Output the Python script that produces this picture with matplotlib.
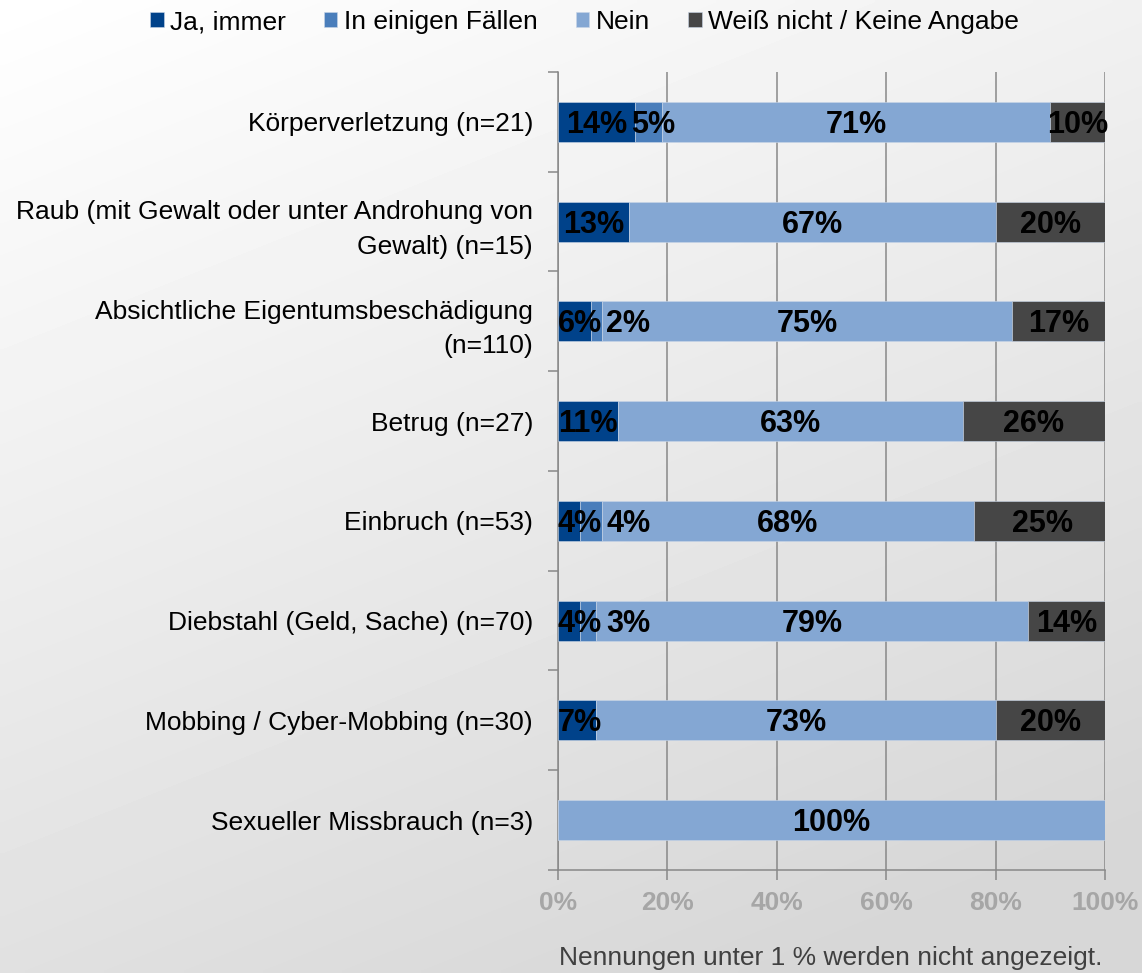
import numpy as np
import matplotlib.pyplot as plt
from matplotlib.ticker import FixedLocator

plt.rcParams['font.family'] = ['Liberation Sans', 'DejaVu Sans']

categories = [
    "Körperverletzung (n=21)",
    "Raub (mit Gewalt oder unter Androhung von\nGewalt) (n=15)",
    "Absichtliche Eigentumsbeschädigung\n(n=110)",
    "Betrug (n=27)",
    "Einbruch (n=53)",
    "Diebstahl (Geld, Sache) (n=70)",
    "Mobbing / Cyber-Mobbing (n=30)",
    "Sexueller Missbrauch (n=3)",
]
series = ["Ja, immer", "In einigen Fällen", "Nein", "Weiß nicht / Keine Angabe"]
ja_immer = [14, 13, 6, 11, 4, 4, 7, 0]
einige_faelle = [5, 0, 2, 0, 4, 3, 0, 0]
nein = [71, 67, 75, 63, 68, 79, 73, 100]
weiss_nicht = [10, 20, 17, 26, 25, 14, 20, 0]
colors = ["#00428a", "#4a7ebb", "#84a7d3", "#464646"]
footnote = "Nennungen unter 1 % werden nicht angezeigt."

fig = plt.figure(figsize=(11.42, 9.73), dpi=100)

# soft diagonal background gradient
bg = fig.add_axes([0, 0, 1, 1], zorder=-10)
yy, xx = np.mgrid[0:1:200j, 0:1:200j]
shade = 1.0 - 0.16 * np.clip(0.35 * xx + 0.75 * yy, 0, 1)
bg.imshow(shade, cmap="gray", vmin=0, vmax=1, aspect="auto",
          extent=[0, 1, 0, 1], origin="upper", interpolation="bilinear")
bg.axis("off")

ax = fig.add_axes([0.4886, 0.1059, 0.479, 0.8201])
ax.set_facecolor("none")
ax.set_xlim(0, 100)
ax.set_ylim(len(categories) - 0.5, -0.5)

y = np.arange(len(categories))
left = np.zeros(len(categories))
row_labels = [[] for _ in categories]
for name, vals, col in zip(series, [ja_immer, einige_faelle, nein, weiss_nicht], colors):
    vals = np.array(vals, dtype=float)
    ax.barh(y, vals, left=left, height=0.4, color=col, label=name,
            edgecolor="#c9d6e8", linewidth=0.4, zorder=3)
    for i, (l, v) in enumerate(zip(left, vals)):
        if v >= 1:
            t = ax.text(l + v / 2, i + 0.03, f"{v:.0f}%", ha="center", va="center",
                        fontsize=22, fontweight="bold", color="black",
                        zorder=5, clip_on=False)
            row_labels[i].append(t)
    left += vals

# push labels apart so narrow segments don't stack their texts
renderer = fig.canvas.get_renderer()
px_per_unit = ax.transData.transform((1, 0))[0] - ax.transData.transform((0, 0))[0]
gap = 4 / px_per_unit
for labels in row_labels:
    prev_right = 0.0 - gap
    for t in labels:
        w = t.get_window_extent(renderer).width / px_per_unit
        x0 = t.get_position()[0] - w / 2
        x0 = max(x0, prev_right + gap, 0.0)
        t.set_x(x0 + w / 2)
        prev_right = x0 + w

ax.set_xticks(np.arange(0, 101, 20))
ax.set_xticklabels([f"{v}%" for v in range(0, 101, 20)], fontsize=19,
                   fontweight="bold", color="#a6a6a6")
ax.grid(axis="x", color="#888888", linewidth=1.1, zorder=0)
ax.set_axisbelow(True)

ax.set_yticks(y)
ax.set_yticklabels(categories, fontsize=19, linespacing=1.55)
ax.yaxis.set_minor_locator(FixedLocator(np.arange(-0.5, len(categories), 1)))
ax.tick_params(axis="y", which="major", length=0, pad=18)
ax.tick_params(axis="y", which="minor", length=7, width=1.1, color="#888888")
ax.tick_params(axis="x", length=7, width=1.1, color="#888888", pad=8)

for s in ["top", "right"]:
    ax.spines[s].set_visible(False)
for s in ["left", "bottom"]:
    ax.spines[s].set_color("#888888")
    ax.spines[s].set_linewidth(1.1)

fig.legend(loc="upper center", bbox_to_anchor=(0.512, 1.014), ncol=4,
           frameon=False, fontsize=19, handlelength=0.5, handleheight=0.5,
           handletextpad=0.25, columnspacing=1.45)

fig.text(0.727, 1 - 958 / 973, footnote, ha="center", va="center",
         fontsize=19, color="#404040")

fig.savefig("out.png", dpi=100)
